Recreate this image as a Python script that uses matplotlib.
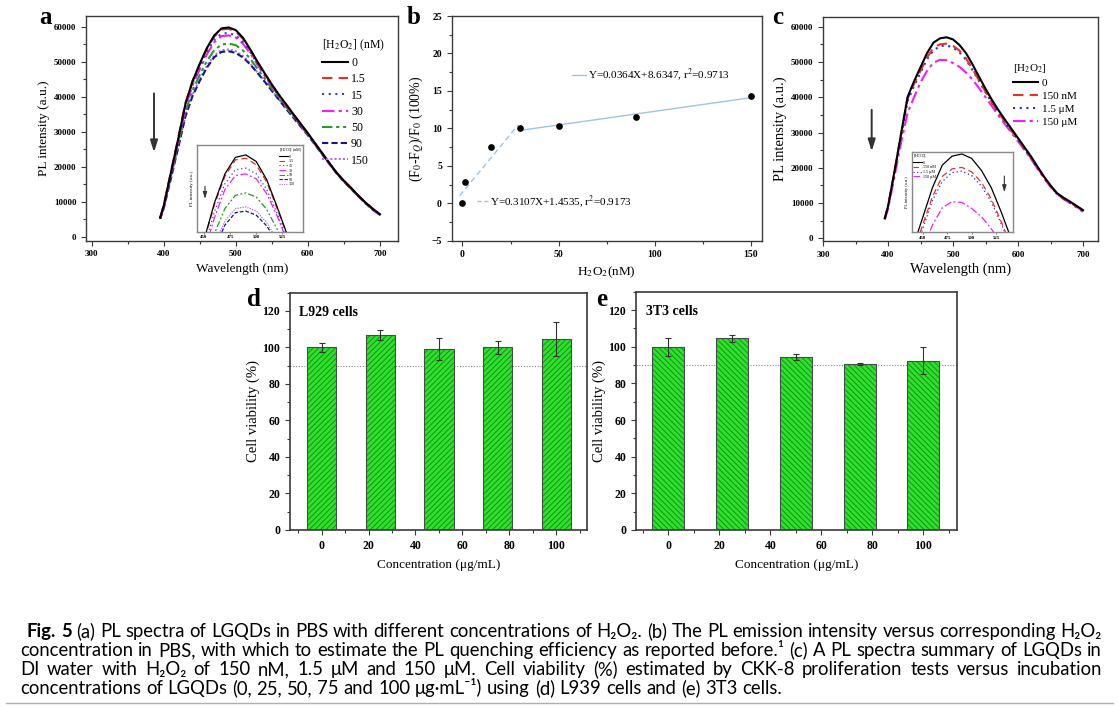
import matplotlib
matplotlib.use('Agg')
import matplotlib.pyplot as plt
from matplotlib.lines import Line2D
from matplotlib.ticker import MultipleLocator

# ------------------------------------------------------------------ data
WL = [395, 400, 410, 420, 430, 440, 450, 460, 470, 480, 490, 500, 510, 520, 530, 540,
      550, 560, 570, 580, 590, 600, 610, 620, 630, 640, 650, 660, 670, 680, 690, 700]

# panel a : PL spectra in PBS, [H2O2] in nM
a_labels = ['0', '1.5', '15', '30', '50', '90', '150']
a_0   = [5500, 9000, 18500, 28000, 38000, 44500, 49500, 54000, 57500, 59500, 59800, 59000, 56800, 53500, 50000, 46700,
         43500, 40500, 37800, 35000, 32300, 29600, 26700, 23900, 21000, 18300, 16000, 14000, 11800, 9800, 8000, 6500]
a_1p5 = [5600, 9200, 18800, 28300, 38200, 44600, 49300, 53800, 57200, 59200, 59400, 58600, 56500, 53300, 49900, 46600,
         43400, 40400, 37600, 34900, 32200, 29500, 26600, 23800, 21000, 18300, 16100, 13900, 11700, 9900, 8100, 6400]
a_15  = [5400, 8900, 18300, 27700, 37500, 43900, 48600, 52900, 56300, 58000, 58200, 57500, 55600, 52700, 49400, 46200,
         43100, 40200, 37400, 34700, 32000, 29300, 26500, 23700, 20900, 18200, 16000, 13800, 11700, 9700, 7900, 6300]
a_30  = [5400, 8800, 18100, 27400, 37000, 43300, 47900, 52200, 55600, 57300, 57500, 56900, 55100, 52400, 49200, 46000,
         43000, 40100, 37400, 34700, 32000, 29400, 26600, 23800, 21000, 18300, 16000, 13900, 11800, 9800, 8000, 6400]
a_50  = [5300, 8600, 17600, 26600, 35800, 41900, 46300, 50300, 53300, 54900, 55200, 54700, 53200, 50800, 48000, 45200,
         42300, 39600, 37000, 34400, 31800, 29200, 26400, 23600, 20900, 18200, 15900, 13800, 11700, 9700, 7900, 6300]
a_90  = [5200, 8300, 16800, 25500, 34400, 40300, 44600, 48400, 51300, 52800, 53000, 52500, 51200, 49200, 46800, 44300,
         41700, 39100, 36500, 34000, 31500, 29000, 26300, 23500, 20800, 18100, 15800, 13700, 11600, 9600, 7800, 6200]
a_150 = [5200, 8400, 17000, 25800, 34800, 40700, 45100, 48900, 51800, 53300, 53500, 53000, 51600, 49500, 47000, 44400,
         41800, 39200, 36600, 34100, 31600, 29100, 26400, 23600, 20900, 18200, 15900, 13800, 11700, 9700, 7900, 6300]
a_series = [a_0, a_1p5, a_15, a_30, a_50, a_90, a_150]

# panel b : quenching efficiency
b_x = [0, 1.5, 15, 30, 50, 90, 150]
b_y = [0, 2.8, 7.5, 10.1, 10.3, 11.5, 14.3]
fit_low = dict(slope=0.3107, intercept=1.4535, x=[-1.5, 29], label='Y=0.3107X+1.4535, r$^2$=0.9173')
fit_high = dict(slope=0.0364, intercept=8.6347, x=[30, 150], label='Y=0.0364X+8.6347, r$^2$=0.9713')

# panel c : PL spectra in DI water
c_labels = ['0', '150 nM', '1.5 \u03bcM', '150 \u03bcM']
c_0      = [5700, 9000, 19000, 29500, 40000, 44500, 48500, 52500, 55500, 56700, 57000, 56400, 54800, 52500, 49300, 45800,
            42400, 39200, 36300, 33600, 31000, 28400, 25800, 23200, 20300, 17500, 15000, 12800, 11500, 10400, 9200, 8000]
c_150nM  = [5600, 9000, 19000, 29300, 39500, 43800, 47500, 51300, 54000, 55000, 55200, 54600, 53200, 51000, 48000, 44800,
            41600, 38500, 35700, 33000, 30500, 28000, 25400, 22800, 20000, 17300, 14800, 12700, 11300, 10200, 9000, 7700]
c_1p5uM  = [5500, 8800, 18700, 28900, 38800, 43200, 47000, 50800, 53300, 54500, 54700, 54100, 52700, 50600, 47700, 44600,
            41400, 38400, 35600, 32900, 30400, 27900, 25300, 22700, 19900, 17200, 14700, 12600, 11200, 10100, 8900, 7600]
c_150uM  = [5300, 8300, 17500, 27000, 35500, 40000, 44200, 47500, 49800, 50600, 50500, 49700, 48600, 47000, 45000, 42600,
            40000, 37400, 34800, 32300, 29900, 27500, 25000, 22500, 19700, 17000, 14600, 12500, 11100, 10000, 8800, 7500]
c_series = [c_0, c_150nM, c_1p5uM, c_150uM]

# panels d, e : cell viability
conc = [0, 25, 50, 75, 100]
d_vals = [100, 107, 99.3, 100, 104.5]
d_err = [2.4, 2.7, 6.0, 3.6, 9.3]
e_vals = [100, 104.5, 94.2, 90.5, 92.4]
e_err = [5.0, 1.8, 1.7, 0.7, 7.2]
threshold = 90

caption = [
    "Fig. 5 (a) PL spectra of LGQDs in PBS with different concentrations of H\u2082O\u2082. (b) The PL emission intensity versus corresponding H\u2082O\u2082",
    "concentration in PBS, with which to estimate the PL quenching efficiency as reported before.\u00b9 (c) A PL spectra summary of LGQDs in",
    "DI water with H\u2082O\u2082 of 150 nM, 1.5 \u03bcM and 150 \u03bcM. Cell viability (%) estimated by CKK-8 proliferation tests versus incubation",
    "concentrations of LGQDs (0, 25, 50, 75 and 100 \u03bcg\u00b7mL\u207b\u00b9) using (d) L939 cells and (e) 3T3 cells.",
]

# ------------------------------------------------------------------ style
plt.rcParams['font.family'] = ['Liberation Serif', 'DejaVu Serif']
plt.rcParams['mathtext.fontset'] = 'stix'
plt.rcParams['hatch.linewidth'] = 0.8

W, H = 1119, 708
fig = plt.figure(figsize=(W / 100, H / 100), dpi=100)


def box(l, t, r, b):
    return [l / W, 1 - b / H, (r - l) / W, (b - t) / H]


def style(ax, fs, spine='#3a3a3a'):
    for s in ax.spines.values():
        s.set_color(spine)
        s.set_linewidth(1.0)
    ax.tick_params(which='both', direction='out', colors=spine, labelcolor='black', labelsize=fs, width=0.8,
                   top=False, right=False)
    ax.tick_params(which='major', length=3.5)
    ax.tick_params(which='minor', length=2)
    for lab in ax.get_xticklabels() + ax.get_yticklabels():
        lab.set_fontweight('bold')


a_styles = [dict(color='black', ls='-'),
            dict(color='#e8302a', ls=(0, (5, 3))),
            dict(color='#3b3be0', ls=(0, (1, 2.2))),
            dict(color='#f020f0', ls=(0, (6, 2, 1.5, 2))),
            dict(color='#279a27', ls=(0, (5, 1.8, 1.5, 1.8, 1.5, 1.8))),
            dict(color='#16168e', ls=(0, (3, 1.5))),
            dict(color='#b070ee', ls=(0, (1, 1)))]
c_styles = [dict(color='black', ls='-'),
            dict(color='#e8302a', ls=(0, (5, 3))),
            dict(color='#2a2ad8', ls=(0, (1, 2.2))),
            dict(color='#f020f0', ls=(0, (6, 2, 1.5, 2)))]

# ------------------------------------------------------------------ panel a
ax = fig.add_axes(box(86, 16, 398, 240.7))
order = [0, 1, 2, 3, 4, 5, 6]
for i in order[::-1]:
    ax.plot(WL, a_series[i], lw=1.5, **a_styles[i])
ax.set_xlim(292, 725)
ax.set_ylim(-1050, 63050)
ax.xaxis.set_major_locator(MultipleLocator(100))
ax.xaxis.set_minor_locator(MultipleLocator(50))
ax.yaxis.set_major_locator(MultipleLocator(10000))
ax.yaxis.set_minor_locator(MultipleLocator(5000))
style(ax, 6.5)
ax.set_xlabel('Wavelength (nm)', fontsize=9.5, labelpad=3)
ax.set_ylabel('PL intensity (a.u.)', fontsize=9.5, labelpad=3)
handles = [Line2D([], [], lw=1.5, **s) for s in a_styles]
ax.legend(handles, a_labels, title='[H$_2$O$_2$] (nM)', loc='upper left', bbox_to_anchor=(0.755, 0.905),
          frameon=False, fontsize=8.5, title_fontsize=8.5, handlelength=2.2, handletextpad=0.3, labelspacing=0.36,
          alignment='left', borderpad=0, borderaxespad=0)
ax.annotate('', xy=(0.218, 0.381), xytext=(0.218, 0.668), xycoords='axes fraction',
            arrowprops=dict(arrowstyle='-|>,head_length=0.7,head_width=0.22', color='#333', lw=1.4))

ins = fig.add_axes(box(196.7, 145, 303.3, 231.7))
for i in order[::-1]:
    ins.plot(WL, a_series[i], lw=0.9, **a_styles[i])
ins.set_xlim(443, 545)
ins.set_ylim(50500, 61000)
ins.set_xticks([450, 475, 500, 525])
ins.set_yticks([])
style(ins, 3.5, spine='#888')
ins.tick_params(which='major', length=1.5, pad=1)
ins.set_ylabel('PL intensity (a.u.)', fontsize=3.5, labelpad=2)
ins.legend([Line2D([], [], lw=0.8, **s) for s in a_styles], a_labels, title='[H$_2$O$_2$] (nM)',
           loc='upper right', frameon=False, fontsize=3, title_fontsize=3, handlelength=2.2,
           handletextpad=0.3, labelspacing=0.15, borderpad=0.2, borderaxespad=0.1, alignment='left')
ins.annotate('', xy=(0.078, 0.346), xytext=(0.078, 0.557), xycoords='axes fraction',
             arrowprops=dict(arrowstyle='-|>,head_length=0.4,head_width=0.12', color='#333', lw=0.8))

# ------------------------------------------------------------------ panel b
bx = fig.add_axes(box(451.7, 16, 761.7, 240.7))
for fit, ls in ((fit_low, (0, (4, 2.5))), (fit_high, '-')):
    xs = fit['x']
    ys = [fit['slope'] * v + fit['intercept'] for v in xs]
    bx.plot(xs, ys, color='#9ec3e6', lw=1.0, ls=ls)
bx.plot(b_x, b_y, 'o', color='black', ms=3.8)
bx.set_xlim(-5.6, 155.6)
bx.set_ylim(-5, 25)
bx.xaxis.set_major_locator(MultipleLocator(50))
bx.xaxis.set_minor_locator(MultipleLocator(25))
bx.yaxis.set_major_locator(MultipleLocator(5))
bx.yaxis.set_minor_locator(MultipleLocator(2.5))
style(bx, 7)
bx.set_xlabel('H$_2$O$_2$(nM)', fontsize=9.5, labelpad=4)
bx.set_ylabel('(F$_0$-F$_Q$)/F$_0$ (100%)', fontsize=10, labelpad=4)
leg1 = bx.legend([Line2D([], [], color='#9ec3e6', lw=1.0)], [fit_high['label']], loc='center left',
                 bbox_to_anchor=(0.387, 0.737), frameon=False, fontsize=8, handlelength=1.3,
                 handletextpad=0.15, borderpad=0, borderaxespad=0)
bx.add_artist(leg1)
bx.legend([Line2D([], [], color='#9ec3e6', lw=1.0, ls=(0, (3, 2)))], [fit_low['label']], loc='center left',
          bbox_to_anchor=(0.081, 0.174), frameon=False, fontsize=8, handlelength=1.0,
          handletextpad=0.15, borderpad=0, borderaxespad=0)

# ------------------------------------------------------------------ panel c
cx = fig.add_axes(box(823, 17, 1098, 241))
for i in range(len(c_series))[::-1]:
    cx.plot(WL, c_series[i], lw=1.5, **c_styles[i])
cx.set_xlim(300, 723)
cx.set_ylim(-765, 62750)
cx.xaxis.set_major_locator(MultipleLocator(100))
cx.xaxis.set_minor_locator(MultipleLocator(50))
cx.yaxis.set_major_locator(MultipleLocator(10000))
cx.yaxis.set_minor_locator(MultipleLocator(5000))
style(cx, 6.5)
cx.set_xlabel('Wavelength (nm)', fontsize=10.5, labelpad=3)
cx.set_ylabel('PL intensity (a.u.)', fontsize=10.5, labelpad=3)
cx.legend([Line2D([], [], lw=1.5, **s) for s in c_styles], c_labels, title='[H$_2$O$_2$]', loc='upper left',
          bbox_to_anchor=(0.69, 0.80), frameon=False, fontsize=8, title_fontsize=8, handlelength=2.3,
          handletextpad=0.3, labelspacing=0.3, alignment='left', borderpad=0, borderaxespad=0)
cx.annotate('', xy=(0.177, 0.388), xytext=(0.177, 0.598), xycoords='axes fraction',
            arrowprops=dict(arrowstyle='-|>,head_length=0.7,head_width=0.22', color='#333', lw=1.4))

cin = fig.add_axes(box(911.7, 151.7, 1012.7, 232.3))
for i in range(len(c_series))[::-1]:
    cin.plot(WL, c_series[i], lw=0.9, **c_styles[i])
cin.set_xlim(438.7, 542)
cin.set_ylim(46500, 57300)
cin.set_xticks([450, 475, 500, 525])
cin.set_yticks([])
style(cin, 3.5, spine='#888')
cin.tick_params(which='major', length=1.5, pad=1)
cin.set_ylabel('PL intensity (a.u.)', fontsize=3.2, labelpad=2)
cin.legend([Line2D([], [], lw=0.8, **s) for s in c_styles], c_labels, title='[H$_2$O$_2$]', loc='upper left',
           frameon=False, fontsize=3, title_fontsize=3, handlelength=2.2, handletextpad=0.3,
           labelspacing=0.15, borderpad=0.2, borderaxespad=0.1, alignment='left')
cin.annotate('', xy=(0.917, 0.463), xytext=(0.917, 0.732), xycoords='axes fraction',
             arrowprops=dict(arrowstyle='-|>,head_length=0.4,head_width=0.12', color='#333', lw=0.8))

# ------------------------------------------------------------------ panels d, e
def bars(rect, vals, err, hatch, title, xlim):
    axx = fig.add_axes(rect)
    axx.bar(conc, vals, width=12.5, color='#2fe02f', edgecolor='#169c16', hatch=hatch, linewidth=0, zorder=2)
    axx.bar(conc, vals, width=12.5, fill=False, edgecolor='#4a4a4a', linewidth=0.8, zorder=3)
    axx.errorbar(conc, vals, yerr=err, fmt='none', ecolor='#333', elinewidth=0.8, capsize=2.2, capthick=0.8,
                 zorder=4)
    axx.axhline(threshold, color='#888', ls=(0, (1, 1.5)), lw=0.8, zorder=1)
    axx.set_xlim(*xlim)
    axx.set_ylim(0, 130)
    axx.xaxis.set_major_locator(MultipleLocator(20))
    axx.xaxis.set_minor_locator(MultipleLocator(10))
    axx.yaxis.set_major_locator(MultipleLocator(20))
    axx.yaxis.set_minor_locator(MultipleLocator(10))
    style(axx, 8.5)
    for s in axx.spines.values():
        s.set_linewidth(1.2)
    axx.set_xlabel('Concentration (\u03bcg/mL)', fontsize=9.5, labelpad=5)
    axx.set_ylabel('Cell viability (%)', fontsize=10.5, labelpad=2)
    axx.text(0.032, 0.915, title, transform=axx.transAxes, fontsize=10, fontweight='bold', va='center')
    return axx


bars(box(290, 292.7, 586.7, 530), d_vals, d_err, '//////', 'L929 cells', (-13.5, 113))
bars(box(636, 291.7, 956.7, 530), e_vals, e_err, '\\\\\\\\\\\\', '3T3 cells', (-12.7, 113.1))

# ------------------------------------------------------------------ panel letters
for letter, (px, py) in zip('abcde', [(46, 17), (414, 17), (778, 18), (254, 300), (602, 300)]):
    fig.text(px / W, 1 - py / H, letter, fontsize=18, fontweight='bold', ha='center', va='center')

# ------------------------------------------------------------------ caption (justified)
renderer = fig.canvas.get_renderer()
cap_family = ['Lato', 'DejaVu Sans']


def width_of(t):
    return t.get_window_extent(renderer).width


probe = fig.text(0, 0, caption[1], fontsize=11, family=cap_family)
cap_fs = 11 * 1075 / width_of(probe)
probe.remove()
sp = fig.text(0, 0, 'a a', fontsize=cap_fs, family=cap_family)
sp2 = fig.text(0, 0, 'aa', fontsize=cap_fs, family=cap_family)
space_w = width_of(sp) - width_of(sp2)
sp.remove()
sp2.remove()

line_base = [637, 656, 675, 694]
line_x0 = [27, 20, 20, 20]
x_right = 1102
for li, line in enumerate(caption):
    words = line.split(' ')
    texts = []
    for wi, wd in enumerate(words):
        bold = (li == 0 and wi < 2)
        t = fig.text(0, 1 - line_base[li] / H, wd, fontsize=cap_fs, family=cap_family,
                     fontweight='bold' if bold else 'normal', va='baseline', ha='left')
        texts.append(t)
    widths = [width_of(t) for t in texts]
    if li < 3:
        gap = (x_right - line_x0[li] - sum(widths)) / (len(words) - 1)
    else:
        gap = space_w
    x = line_x0[li]
    for t, w in zip(texts, widths):
        t.set_x(x / W)
        x += w + gap

fig.add_artist(Line2D([0.005, 0.995], [1 - 703 / H, 1 - 703 / H], color='#b0b0b0', lw=1.0))

fig.savefig('out.png', dpi=100)
